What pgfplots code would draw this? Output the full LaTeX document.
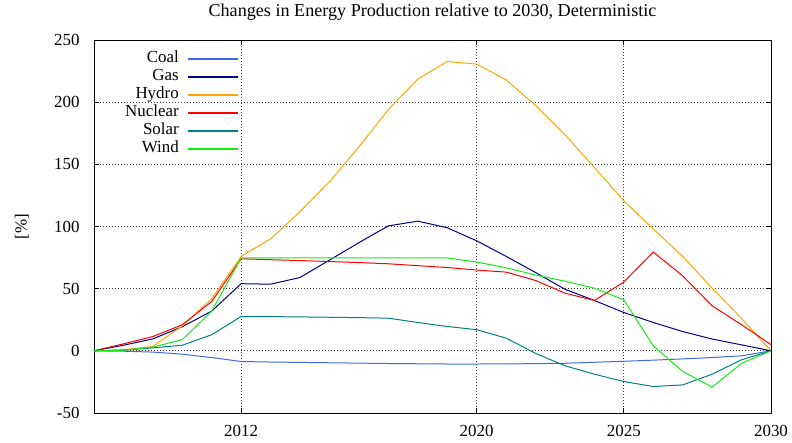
\documentclass[border=0pt]{standalone}
\usepackage{fontspec}
\setmainfont{Liberation Serif}
\usepackage{pgfplots}
\pgfplotsset{compat=1.18}
\definecolor{cCoal}{RGB}{65,105,225}
\definecolor{cGas}{RGB}{0,0,139}
\definecolor{cHydro}{RGB}{255,165,0}
\definecolor{cNuc}{RGB}{255,0,0}
\definecolor{cSolar}{RGB}{0,128,128}
\definecolor{cWind}{RGB}{20,235,20}
\begin{document}
\begin{tikzpicture}
\useasboundingbox (-94bp,-30bp) rectangle (698bp,413bp);
\begin{axis}[
  scale only axis, width=677bp, height=373bp,
  at={(0,0)}, anchor=south west,
  xmin=2007, xmax=2030, ymin=-50, ymax=250,
  xtick={2012,2020,2025,2030},
  ytick={-50,0,50,100,150,200,250},
  /pgf/number format/assume math mode=true,
  /pgf/number format/1000 sep={},
  ticklabel style={font=\fontsize{17}{17}\selectfont},
  yticklabel style={xshift=-11bp},
  xticklabel style={yshift=-9bp},
  tick align=inside, major tick length=5bp,
  tick style={black, line width=0.8pt},
  axis line style={line width=1pt},
  grid=major,
  grid style={black!75, line width=0.7pt, dash pattern=on 0.8bp off 2.2bp},
  title={Changes in Energy Production relative to 2030, Deterministic},
  every axis title/.style={font=\fontsize{18.2}{18.2}\selectfont, at={(axis description cs:0.5,1)}, anchor=center, yshift=27.5bp},
  ylabel={[\%]},
  every axis y label/.style={font=\fontsize{17}{17}\selectfont, at={(axis description cs:0,0.5)}, xshift=-72bp, rotate=90, anchor=center},
  legend style={draw=none, fill=none, at={(axis description cs:0,1)}, anchor=north west,
    font=\fontsize{17}{17}\selectfont, row sep=2bp, column sep=9bp, inner sep=0pt,
    nodes={inner sep=0pt, text height=12bp, text depth=4bp},
    xshift=31bp, yshift=-10.8bp},
  legend cell align=right,
  legend plot pos=right,
  legend image code/.code={\draw[#1, line width=1.2pt] (0bp,0bp) -- (50bp,0bp);},
  every axis plot/.append style={line width=1pt},
]
\addplot[cCoal] coordinates {(2007,0)(2008,-0.3)(2009,-1)(2010,-2.7)(2011,-5.4)(2012,-8.6)(2013,-9)(2014,-9.3)(2015,-9.6)(2016,-9.9)(2017,-10.2)(2018,-10.4)(2019,-10.6)(2020,-10.6)(2021,-10.5)(2022,-10.3)(2023,-10)(2024,-9.2)(2025,-8.4)(2026,-7.5)(2027,-6.5)(2028,-5.4)(2029,-4)(2030,0)};
\addlegendentry{Coal}
\addplot[cGas] coordinates {(2007,0)(2008,4.5)(2009,9.6)(2010,19.4)(2011,32)(2012,54)(2013,53.6)(2014,59)(2015,73)(2016,87)(2017,100.5)(2018,104.3)(2019,99)(2020,88.5)(2021,76)(2022,63)(2023,49.5)(2024,40.5)(2025,30.8)(2026,22.8)(2027,15.5)(2028,9.5)(2029,4.8)(2030,0)};
\addlegendentry{Gas}
\addplot[cHydro] coordinates {(2007,0)(2008,1)(2009,3.5)(2010,20)(2011,42)(2012,76)(2013,90)(2014,112)(2015,136)(2016,164)(2017,194)(2018,218.6)(2019,232.7)(2020,230.6)(2021,218)(2022,197.4)(2023,173.8)(2024,147.5)(2025,120.7)(2026,98)(2027,75.9)(2028,50.4)(2029,26)(2030,0)};
\addlegendentry{Hydro}
\addplot[cNuc] coordinates {(2007,0)(2008,5.6)(2009,11.5)(2010,21)(2011,39.7)(2012,74)(2013,73.3)(2014,72.6)(2015,71.8)(2016,71)(2017,70)(2018,68.5)(2019,67)(2020,65)(2021,63.3)(2022,56.6)(2023,46.4)(2024,40.5)(2025,55.3)(2026,79.4)(2027,60.3)(2028,36.2)(2029,21)(2030,5)};
\addlegendentry{Nuclear}
\addplot[cSolar] coordinates {(2007,0)(2008,0.5)(2009,2.4)(2010,4.5)(2011,13)(2012,27.6)(2013,27.5)(2014,27.3)(2015,27)(2016,26.7)(2017,26.3)(2018,22.8)(2019,19.6)(2020,17)(2021,10.2)(2022,-2)(2023,-12)(2024,-18.8)(2025,-24.7)(2026,-28.7)(2027,-27.4)(2028,-18.8)(2029,-7.2)(2030,0)};
\addlegendentry{Solar}
\addplot[cWind] coordinates {(2007,0)(2008,0.5)(2009,3)(2010,9)(2011,32)(2012,74.7)(2013,74.7)(2014,74.7)(2015,74.7)(2016,74.7)(2017,74.7)(2018,74.7)(2019,74.7)(2020,71.4)(2021,66.8)(2022,61)(2023,56)(2024,50.4)(2025,41)(2026,4)(2027,-16.6)(2028,-29.2)(2029,-10)(2030,0)};
\addlegendentry{Wind}
\end{axis}
\end{tikzpicture}
\end{document}
